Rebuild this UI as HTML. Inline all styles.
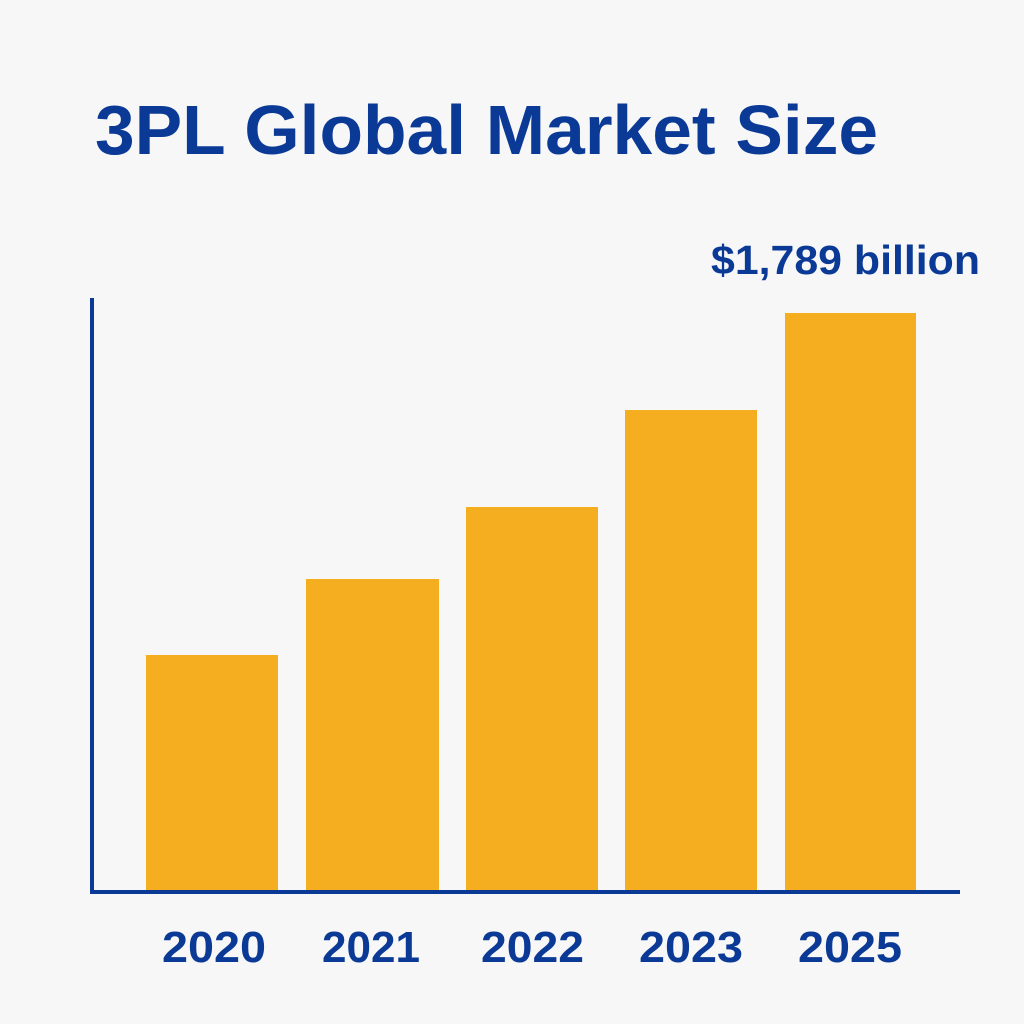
<!DOCTYPE html>
<html><head><meta charset="utf-8"><style>
html,body{margin:0;padding:0;background:#f7f7f7;}
svg{display:block}
text{font-family:"Liberation Sans",sans-serif;font-weight:bold;fill:#0b3a96;}
</style></head><body>
<svg width="1024" height="1024" viewBox="0 0 1024 1024">
<rect width="1024" height="1024" fill="#f7f7f7"/>
<text x="95" y="154" font-size="70" textLength="783" lengthAdjust="spacingAndGlyphs">3PL Global Market Size</text>
<text x="711" y="274" font-size="41" textLength="269" lengthAdjust="spacingAndGlyphs">$1,789 billion</text>
<g fill="#f4ae1f">
<rect x="146" y="655" width="132" height="236"/>
<rect x="306" y="579" width="133" height="312"/>
<rect x="466" y="507" width="132" height="384"/>
<rect x="625" y="410" width="132" height="481"/>
<rect x="785" y="313" width="131" height="578"/>
</g>
<line x1="92" y1="298" x2="92" y2="894" stroke="#0b3a96" stroke-width="4"/>
<line x1="90" y1="892" x2="960" y2="892" stroke="#0b3a96" stroke-width="4"/>
<g font-size="44">
<text x="162" y="962" textLength="104" lengthAdjust="spacingAndGlyphs">2020</text>
<text x="322" y="962" textLength="98" lengthAdjust="spacingAndGlyphs">2021</text>
<text x="481" y="962" textLength="103" lengthAdjust="spacingAndGlyphs">2022</text>
<text x="639" y="962" textLength="104" lengthAdjust="spacingAndGlyphs">2023</text>
<text x="798" y="962" textLength="104" lengthAdjust="spacingAndGlyphs">2025</text>
</g>
</svg>
</body></html>
